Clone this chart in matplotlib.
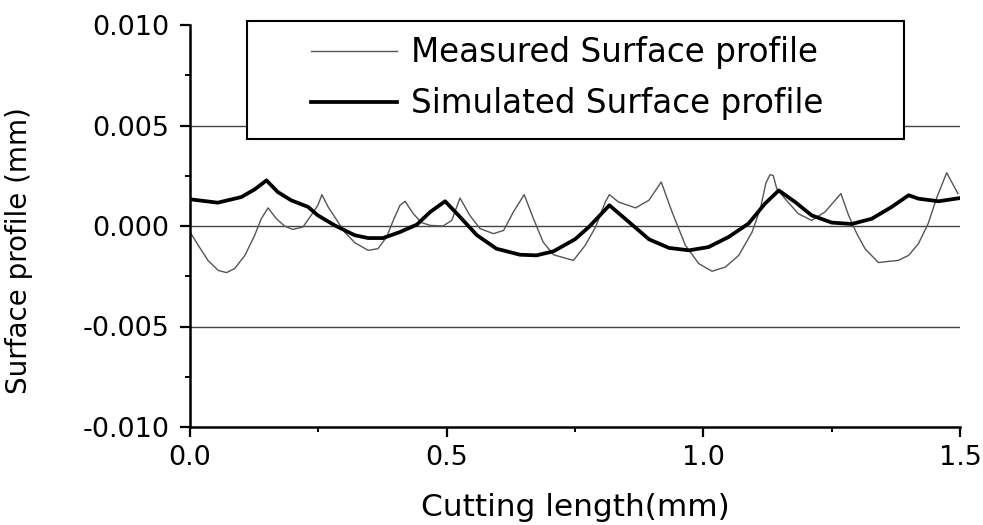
import numpy as np
import matplotlib.pyplot as plt
from matplotlib.patches import Rectangle

plt.rcParams['font.family'] = ['DejaVu Sans']

# --- Profile data: x in mm, y in 1e-3 mm ---
sim_x = [0.000, 0.054, 0.100, 0.126, 0.149, 0.171, 0.197, 0.230, 0.249, 0.282,
         0.321, 0.347, 0.376, 0.409, 0.442, 0.468, 0.497, 0.526, 0.559, 0.597,
         0.643, 0.675, 0.708, 0.750, 0.777, 0.817, 0.855, 0.894, 0.933, 0.972,
         1.010, 1.049, 1.088, 1.120, 1.147, 1.179, 1.211, 1.250, 1.289, 1.328,
         1.367, 1.400, 1.419, 1.458, 1.500]
sim_y = [1.33, 1.16, 1.44, 1.82, 2.27, 1.69, 1.28, 0.95, 0.53, 0.03,
         -0.46, -0.60, -0.60, -0.30, 0.07, 0.70, 1.23, 0.45, -0.46, -1.13,
         -1.43, -1.46, -1.26, -0.66, -0.05, 1.03, 0.20, -0.66, -1.09, -1.21,
         -1.05, -0.55, 0.12, 1.11, 1.77, 1.19, 0.53, 0.17, 0.10, 0.36,
         0.95, 1.53, 1.36, 1.23, 1.39]

meas_x = [0.000, 0.016, 0.035, 0.055, 0.071, 0.087, 0.107, 0.126, 0.139, 0.152,
          0.168, 0.184, 0.200, 0.220, 0.236, 0.249, 0.257, 0.269, 0.282, 0.301,
          0.321, 0.347, 0.366, 0.383, 0.396, 0.409, 0.419, 0.435, 0.451, 0.468,
          0.493, 0.510, 0.526, 0.545, 0.565, 0.591, 0.611, 0.630, 0.651, 0.669,
          0.688, 0.708, 0.734, 0.747, 0.770, 0.790, 0.809, 0.817, 0.835, 0.868,
          0.894, 0.918, 0.939, 0.965, 0.991, 1.017, 1.043, 1.069, 1.095, 1.111,
          1.122, 1.130, 1.136, 1.143, 1.159, 1.185, 1.211, 1.237, 1.268, 1.283,
          1.299, 1.315, 1.341, 1.361, 1.380, 1.400, 1.419, 1.438, 1.454, 1.474,
          1.496]
meas_y = [-0.30, -0.96, -1.71, -2.21, -2.32, -2.12, -1.46, -0.46, 0.37, 0.90,
          0.37, 0.00, -0.17, -0.05, 0.53, 1.03, 1.56, 0.95, 0.45, -0.30,
          -0.83, -1.21, -1.13, -0.55, 0.28, 1.03, 1.23, 0.61, 0.17, 0.03,
          0.00, 0.28, 1.39, 0.53, -0.13, -0.38, -0.22, 0.70, 1.56, 0.37,
          -0.80, -1.43, -1.62, -1.71, -0.96, -0.05, 1.19, 1.56, 1.19, 0.90,
          1.28, 2.19, 0.70, -0.96, -1.87, -2.25, -2.04, -1.46, -0.30, 0.86,
          2.15, 2.55, 2.52, 1.86, 1.36, 0.61, 0.28, 0.70, 1.61, 0.53,
          -0.38, -1.13, -1.82, -1.76, -1.71, -1.46, -0.88, 0.12, 1.36, 2.65,
          1.61]

meas_x = np.array(meas_x)
meas_y = np.array(meas_y) * 1e-3
sim_x = np.array(sim_x)
sim_y = np.array(sim_y) * 1e-3

fig = plt.figure(figsize=(9.83, 5.25), dpi=100)
ax = fig.add_axes([190 / 983, 1 - 427 / 525, 770 / 983, 402 / 525])

# horizontal reference lines
for level in (0.005, 0.0, -0.005):
    ax.axhline(level, color='#444444', lw=1.0, zorder=1)

l1, = ax.plot(meas_x, meas_y, color='#555555', lw=1.0, zorder=2,
              label='Measured Surface profile')
l2, = ax.plot(sim_x, sim_y, color='black', lw=2.7, zorder=3,
              solid_joinstyle='round', label='Simulated Surface profile')

ax.set_xlim(0, 1.5)
ax.set_ylim(-0.010, 0.010)
ax.set_xticks([0.0, 0.5, 1.0, 1.5])
ax.set_xticks([0.25, 0.75, 1.25], minor=True)
ax.set_yticks([-0.010, -0.005, 0.0, 0.005, 0.010])
ax.set_yticks([-0.0075, -0.0025, 0.0025, 0.0075], minor=True)
ax.xaxis.set_major_formatter(plt.FormatStrFormatter('%.1f'))
ax.yaxis.set_major_formatter(plt.FormatStrFormatter('%.3f'))

for side in ('top', 'right'):
    ax.spines[side].set_visible(False)
for side in ('left', 'bottom'):
    ax.spines[side].set_linewidth(1.8)

ax.tick_params(which='major', direction='out', length=7, width=1.6,
               labelsize=19.5, pad=6, colors='black')
ax.tick_params(which='minor', direction='out', length=3.5, width=1.4)
ax.tick_params(axis='y', which='major', pad=8)

ax.set_xlabel('Cutting length(mm)', fontsize=22.5, labelpad=16)
ax.set_ylabel('Surface profile (mm)', fontsize=20)
ax.yaxis.set_label_coords(-0.204, 0.44)

# legend frame drawn separately so it can be wider than its contents
box = Rectangle((247 / 983, 1 - 139 / 525), 657 / 983, 118 / 525,
                transform=fig.transFigure, facecolor='white',
                edgecolor='black', lw=1.5, zorder=5)
fig.add_artist(box)

leg = fig.legend(handles=[l1, l2], loc='upper left',
                 bbox_to_anchor=(311 / 983, 1 - 36 / 525),
                 bbox_transform=fig.transFigure, frameon=False,
                 fontsize=23.5, handlelength=2.64, handletextpad=0.43,
                 labelspacing=0.55, borderpad=0, borderaxespad=0)
leg.set_zorder(6)

fig.savefig('out.png', dpi=100)
